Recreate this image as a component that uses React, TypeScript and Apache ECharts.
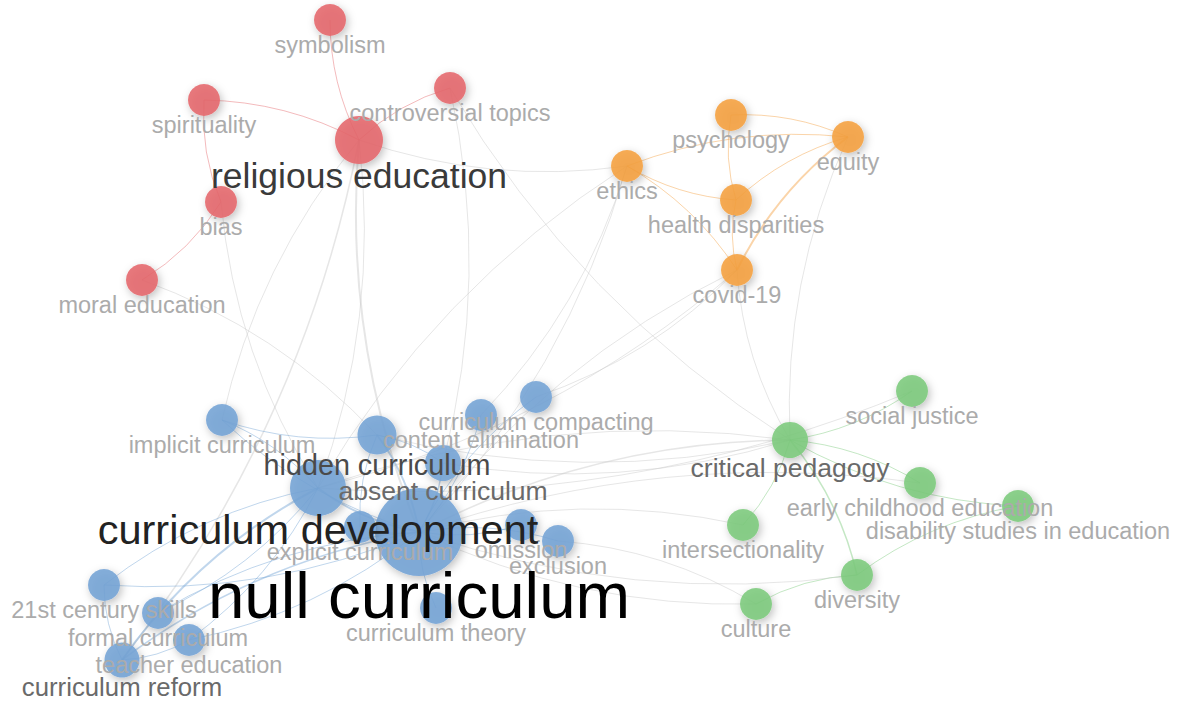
import React, { useEffect, useRef } from "react";
import * as echarts from "echarts";

const W = 1186;
const H = 704;

// cluster colours: 0 red, 1 blue, 2 green, 3 orange
const clusterColors = ["#e5676b", "#74a3d5", "#7cca7c", "#f5a040"];

const nodeNames = [
  "symbolism", "spirituality", "controversial topics", "religious education", "bias", "moral education",
  "psychology", "equity", "ethics", "health disparities", "covid-19",
  "social justice", "critical pedagogy", "early childhood education", "disability studies in education",
  "intersectionality", "diversity", "culture",
  "curriculum compacting", "content elimination", "hidden curriculum", "implicit curriculum",
  "absent curriculum", "curriculum development", "null curriculum", "explicit curriculum",
  "omission", "exclusion", "curriculum theory", "21st century skills", "formal curriculum",
  "teacher education", "curriculum reform",
];
const nodeX = [
  330, 204, 450, 359, 221, 142,
  731, 848, 627, 736, 737,
  912, 790, 920, 1018, 743, 857, 756,
  536, 481, 377, 222, 443, 318, 419, 360, 521, 558, 436, 104, 158, 189, 122,
];
const nodeY = [
  20, 100, 88, 140, 202, 280,
  115, 137, 166, 200, 270,
  391, 440, 483, 506, 525, 575, 604,
  397, 415, 435, 420, 463, 488, 532, 527, 525, 541, 608, 585, 613, 640, 660,
];
const nodeWeight = [
  32, 32, 32, 48, 32, 32,
  32, 32, 32, 32, 32,
  32, 36, 32, 32, 32, 32, 32,
  32, 32, 39, 32, 36, 56, 88, 32, 32, 32, 32, 32, 32, 32, 35,
];
const nodeCluster = [
  0, 0, 0, 0, 0, 0,
  3, 3, 3, 3, 3,
  2, 2, 2, 2, 2, 2, 2,
  1, 1, 1, 1, 1, 1, 1, 1, 1, 1, 1, 1, 1, 1, 1,
];

const links: [string, string, number][] = [
  ["religious education", "symbolism", 1],
  ["religious education", "spirituality", 1],
  ["religious education", "controversial topics", 1],
  ["spirituality", "bias", 1],
  ["bias", "moral education", 1],
  ["religious education", "null curriculum", 2],
  ["religious education", "curriculum reform", 1.5],
  ["religious education", "ethics", 1],
  ["religious education", "curriculum development", 1],
  ["religious education", "implicit curriculum", 1],
  ["controversial topics", "absent curriculum", 1],
  ["controversial topics", "critical pedagogy", 1],
  ["moral education", "hidden curriculum", 1],
  ["bias", "curriculum development", 1],
  ["psychology", "equity", 1],
  ["psychology", "health disparities", 1],
  ["ethics", "equity", 1],
  ["ethics", "health disparities", 1],
  ["ethics", "covid-19", 1],
  ["health disparities", "covid-19", 1],
  ["health disparities", "equity", 1],
  ["equity", "covid-19", 2],
  ["ethics", "null curriculum", 1],
  ["ethics", "curriculum development", 1],
  ["ethics", "content elimination", 1],
  ["covid-19", "null curriculum", 1],
  ["covid-19", "curriculum compacting", 1],
  ["covid-19", "critical pedagogy", 1],
  ["covid-19", "curriculum development", 1],
  ["equity", "critical pedagogy", 1],
  ["critical pedagogy", "diversity", 1.5],
  ["critical pedagogy", "social justice", 1],
  ["critical pedagogy", "early childhood education", 1],
  ["critical pedagogy", "disability studies in education", 1],
  ["critical pedagogy", "intersectionality", 1],
  ["diversity", "culture", 1],
  ["diversity", "disability studies in education", 1],
  ["critical pedagogy", "null curriculum", 1.5],
  ["critical pedagogy", "hidden curriculum", 1],
  ["critical pedagogy", "curriculum development", 1],
  ["critical pedagogy", "absent curriculum", 1],
  ["intersectionality", "null curriculum", 1],
  ["culture", "null curriculum", 1],
  ["culture", "exclusion", 1],
  ["diversity", "null curriculum", 1],
  ["early childhood education", "null curriculum", 1],
  ["social justice", "curriculum development", 1],
  ["null curriculum", "hidden curriculum", 2],
  ["null curriculum", "curriculum development", 2],
  ["null curriculum", "absent curriculum", 1.5],
  ["null curriculum", "explicit curriculum", 1.5],
  ["null curriculum", "omission", 1],
  ["null curriculum", "exclusion", 1],
  ["null curriculum", "curriculum theory", 1],
  ["null curriculum", "21st century skills", 1],
  ["null curriculum", "formal curriculum", 1],
  ["null curriculum", "teacher education", 1],
  ["null curriculum", "curriculum reform", 1.5],
  ["null curriculum", "implicit curriculum", 1],
  ["null curriculum", "content elimination", 1],
  ["null curriculum", "curriculum compacting", 1],
  ["curriculum development", "curriculum reform", 2],
  ["curriculum development", "formal curriculum", 1],
  ["curriculum development", "21st century skills", 1],
  ["curriculum development", "teacher education", 1],
  ["curriculum development", "implicit curriculum", 1],
  ["hidden curriculum", "implicit curriculum", 1],
  ["hidden curriculum", "explicit curriculum", 1],
  ["hidden curriculum", "absent curriculum", 1],
  ["21st century skills", "curriculum reform", 1],
  ["teacher education", "curriculum reform", 1],
];

const FONT = '"Liberation Sans", Arial, Helvetica, sans-serif';

function labelSize(w: number) {
  return 0.75 * w - 0.5;
}
function labelColor(w: number) {
  if (w >= 80) return "#000000";
  if (w >= 54) return "#222222";
  if (w >= 45) return "#3a3a3a";
  if (w >= 38) return "#4a4a4a";
  if (w >= 34) return "#6a6a6a";
  return "#ababab";
}

export default function App() {
  const ref = useRef<HTMLDivElement>(null);
  useEffect(() => {
    if (!ref.current) return;
    const chart = echarts.init(ref.current, undefined, { renderer: "svg" });
    const idx: Record<string, number> = {};
    nodeNames.forEach((n, i) => (idx[n] = i));

    const graphData = nodeNames.map((name, i) => ({
      name,
      value: [nodeX[i], nodeY[i]],
      symbolSize: nodeWeight[i],
      itemStyle: {
        color: clusterColors[nodeCluster[i]],
        opacity: 0.88,
        shadowBlur: 8,
        shadowColor: "rgba(0,0,0,0.28)",
        shadowOffsetX: 2,
        shadowOffsetY: 3,
      },
    }));

    const graphLinks = links.map(([s, t, w], k) => {
      const cs = nodeCluster[idx[s]];
      const ct = nodeCluster[idx[t]];
      const same = cs === ct;
      return {
        source: s,
        target: t,
        lineStyle: {
          color: same ? clusterColors[cs] : "#c8c8c8",
          opacity: 0.45,
          width: w,
          curveness: k % 2 === 0 ? 0.12 : -0.12,
        },
      };
    });

    const order = nodeNames
      .map((_, i) => i)
      .sort((a, b) => nodeWeight[a] - nodeWeight[b]);

    const labelData = order.map((i) => {
      const w = nodeWeight[i];
      const fs = labelSize(w);
      const dy = w / 2 + 0.24 * fs + 3.4;
      return {
        name: nodeNames[i],
        value: [nodeX[i], nodeY[i]],
        label: {
          show: true,
          position: "inside",
          offset: [0, dy],
          fontSize: fs,
          color: labelColor(w),
          opacity: 1,
          fontFamily: FONT,
          formatter: "{b}",
        },
      };
    });

    chart.setOption({
      animation: false,
      backgroundColor: "#ffffff",
      grid: { left: 0, right: 0, top: 0, bottom: 0 },
      xAxis: { type: "value", min: 0, max: W, show: false },
      yAxis: { type: "value", min: 0, max: H, inverse: true, show: false },
      series: [
        {
          type: "graph",
          coordinateSystem: "cartesian2d",
          layout: "none",
          data: graphData,
          links: graphLinks,
          label: { show: false },
          emphasis: { disabled: true },
          z: 2,
        },
        {
          type: "scatter",
          data: labelData,
          symbolSize: 0,
          silent: true,
          itemStyle: { opacity: 1 },
          z: 5,
        },
      ],
    });
    return () => chart.dispose();
  }, []);
  return (
    <div
      ref={ref}
      style={{ position: "fixed", left: 0, top: 0, width: W, height: H, background: "#fff" }}
    />
  );
}
